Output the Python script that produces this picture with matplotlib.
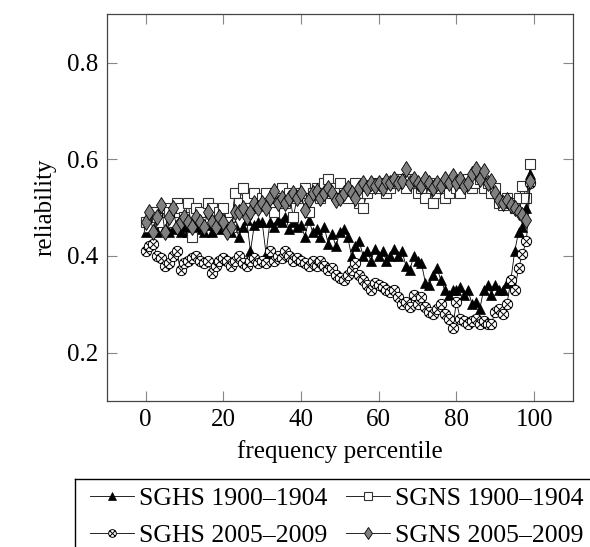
import numpy as np
import matplotlib
matplotlib.use("Agg")
import matplotlib.pyplot as plt
from matplotlib.path import Path
from matplotlib.lines import Line2D

plt.rcParams['font.family'] = 'serif'
plt.rcParams['font.serif'] = ['Liberation Serif', 'DejaVu Serif']
plt.rcParams['mathtext.fontset'] = 'stix'

percentile = list(range(100))

sghs_1900 = [0.45, 0.455, 0.46, 0.45, 0.47, 0.46, 0.45, 0.455, 0.46, 0.45,
             0.46, 0.45, 0.47, 0.455, 0.46, 0.45, 0.465, 0.45, 0.46, 0.455,
             0.47, 0.46, 0.45, 0.465, 0.44, 0.46, 0.475, 0.41, 0.465, 0.47,
             0.47, 0.405, 0.47, 0.46, 0.475, 0.47, 0.48, 0.455, 0.47, 0.46,
             0.465, 0.44, 0.475, 0.45, 0.455, 0.44, 0.46, 0.425, 0.445, 0.42,
             0.45, 0.455, 0.44, 0.40, 0.42, 0.43, 0.40, 0.41, 0.39, 0.415,
             0.40, 0.41, 0.39, 0.40, 0.415, 0.40, 0.41, 0.38, 0.37, 0.40,
             0.39, 0.385, 0.345, 0.34, 0.36, 0.375, 0.35, 0.33, 0.32, 0.33,
             0.33, 0.335, 0.32, 0.33, 0.30, 0.305, 0.29, 0.33, 0.34, 0.32,
             0.34, 0.33, 0.33, 0.345, 0.35, 0.41, 0.45, 0.46, 0.50, 0.57]

sgns_1900 = [0.47, 0.46, 0.49, 0.48, 0.47, 0.50, 0.49, 0.47, 0.51, 0.50,
             0.48, 0.51, 0.44, 0.50, 0.49, 0.47, 0.51, 0.50, 0.48, 0.49,
             0.50, 0.47, 0.46, 0.53, 0.51, 0.54, 0.52, 0.50, 0.53, 0.51,
             0.52, 0.53, 0.50, 0.49, 0.52, 0.54, 0.51, 0.53, 0.48, 0.52,
             0.53, 0.54, 0.49, 0.53, 0.54, 0.52, 0.55, 0.56, 0.53, 0.54,
             0.55, 0.53, 0.52, 0.54, 0.55, 0.51, 0.50, 0.53, 0.54, 0.55,
             0.54, 0.55, 0.53, 0.54, 0.55, 0.56, 0.55, 0.54, 0.56, 0.55,
             0.53, 0.54, 0.52, 0.55, 0.51, 0.53, 0.54, 0.52, 0.53, 0.55,
             0.54, 0.53, 0.55, 0.56, 0.54, 0.55, 0.56, 0.54, 0.55, 0.53,
             0.54, 0.51, 0.505, 0.52, 0.51, 0.50, 0.52, 0.545, 0.52, 0.59]

sghs_2005 = [0.41, 0.42, 0.425, 0.40, 0.395, 0.38, 0.385, 0.40, 0.41, 0.37,
             0.385, 0.39, 0.395, 0.40, 0.39, 0.385, 0.39, 0.365, 0.38, 0.39,
             0.395, 0.39, 0.38, 0.39, 0.40, 0.385, 0.38, 0.39, 0.395, 0.385,
             0.39, 0.385, 0.41, 0.39, 0.40, 0.395, 0.41, 0.40, 0.39, 0.395,
             0.39, 0.385, 0.38, 0.39, 0.38, 0.39, 0.38, 0.37, 0.375, 0.36,
             0.355, 0.35, 0.36, 0.37, 0.385, 0.36, 0.35, 0.34, 0.33, 0.345,
             0.34, 0.335, 0.33, 0.325, 0.33, 0.315, 0.30, 0.305, 0.295, 0.32,
             0.30, 0.315, 0.295, 0.285, 0.28, 0.29, 0.30, 0.28, 0.27, 0.25,
             0.305, 0.27, 0.265, 0.26, 0.265, 0.27, 0.26, 0.265, 0.26, 0.26,
             0.285, 0.29, 0.28, 0.30, 0.35, 0.33, 0.375, 0.405, 0.43, 0.55]

sgns_2005 = [0.47, 0.49, 0.45, 0.48, 0.505, 0.45, 0.48, 0.50, 0.46, 0.47,
             0.48, 0.47, 0.46, 0.48, 0.47, 0.46, 0.49, 0.47, 0.46, 0.48,
             0.47, 0.45, 0.46, 0.49, 0.49, 0.50, 0.48, 0.49, 0.51, 0.50,
             0.51, 0.50, 0.52, 0.535, 0.51, 0.52, 0.51, 0.52, 0.53, 0.52,
             0.53, 0.495, 0.515, 0.53, 0.535, 0.52, 0.53, 0.54, 0.53, 0.515,
             0.52, 0.53, 0.54, 0.53, 0.52, 0.54, 0.55, 0.54, 0.55, 0.545,
             0.55, 0.54, 0.555, 0.55, 0.56, 0.55, 0.555, 0.58, 0.55, 0.56,
             0.55, 0.545, 0.56, 0.55, 0.54, 0.55, 0.545, 0.56, 0.55, 0.565,
             0.55, 0.56, 0.545, 0.55, 0.57, 0.58, 0.56, 0.575, 0.55, 0.555,
             0.53, 0.515, 0.51, 0.515, 0.505, 0.50, 0.49, 0.485, 0.475, 0.555]

labels = ['SGHS 1900–1904', 'SGNS 1900–1904', 'SGHS 2005–2009', 'SGNS 2005–2009']
x_ticks = [0, 20, 40, 60, 80, 100]
y_ticks = [0.2, 0.4, 0.6, 0.8]

# circle with x marker (otimes)
circ = Path.unit_circle()
d = 0.7071
cross1 = Path([[-d, -d], [d, d]], [Path.MOVETO, Path.LINETO])
cross2 = Path([[-d, d], [d, -d]], [Path.MOVETO, Path.LINETO])
otimes = Path.make_compound_path(circ, cross1, cross2)

fig = plt.figure(figsize=(5.9, 5.47), dpi=100)
ax = fig.add_axes([106.7/590, 1-401/547, (573-106.7)/590, (401-14.3)/547])

lw = 0.6
h1, = ax.plot(percentile, sghs_1900, color='black', lw=lw, marker='^', ms=7.4,
              mfc='black', mec='black', mew=0.5, label=labels[0])
h2, = ax.plot(percentile, sgns_1900, color='black', lw=lw, marker='s', ms=7.0,
              mfc='white', mec='#333333', mew=0.8, label=labels[1])
h3, = ax.plot(percentile, sghs_2005, color='black', lw=lw, marker=otimes, ms=7.4,
              mfc='white', mec='black', mew=0.7, label=labels[2])
h4, = ax.plot(percentile, sgns_2005, color='black', lw=lw, marker='d', ms=8.0,
              mfc='#808080', mec='black', mew=0.6, label=labels[3])

ax.set_xlim(-10, 110)
ax.set_ylim(0.1, 0.9)
ax.set_xticks(x_ticks)
ax.set_yticks(y_ticks)
ax.set_yticklabels([f'{v:.1f}' for v in y_ticks])
ax.tick_params(direction='in', length=7, width=0.8, color='#888888',
               top=True, right=True, labelsize=18, pad=6)
for s in ax.spines.values():
    s.set_color('#444444')
    s.set_linewidth(0.9)
ax.set_xlabel('frequency percentile', fontsize=18, labelpad=6)
ax.set_ylabel('reliability', fontsize=18, labelpad=8)

# legend frame (extends beyond the figure edge)
fig.add_artist(Line2D([75/590, 1.01], [1-479/547, 1-479/547], color='black', lw=1.0,
                      transform=fig.transFigure))
fig.add_artist(Line2D([75/590, 75/590], [1-479/547, -0.01], color='black', lw=1.0,
                      transform=fig.transFigure))

leg = fig.legend([h1, h3, h2, h4], [labels[0], labels[2], labels[1], labels[3]],
                 ncol=2, loc='upper left', bbox_to_anchor=(90/590, 1-487/547),
                 frameon=False, fontsize=18.5, borderpad=0, borderaxespad=0,
                 handlelength=1.72, handletextpad=0.2, columnspacing=0.7,
                 labelspacing=0.55, markerscale=0.75)

fig.savefig('out.png', dpi=100)
